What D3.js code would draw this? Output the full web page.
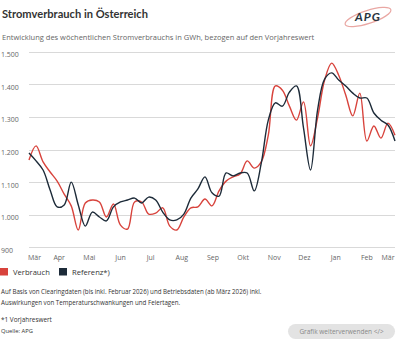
<!DOCTYPE html>
<html>
<head>
<meta charset="utf-8">
<script src="https://cdn.jsdelivr.net/npm/d3@7"></script>
<style>
  body { margin: 0; background: #fff; }
  #chart { width: 400px; height: 342px; }
</style>
</head>
<body>
<div id="chart"></div>
<script>
// weekly dates (one point per week)
const weeks = [
  "2025-03-02", "2025-03-09", "2025-03-16", "2025-03-23", "2025-03-30",
  "2025-04-06", "2025-04-13", "2025-04-20", "2025-04-27",
  "2025-05-04", "2025-05-11", "2025-05-18", "2025-05-25",
  "2025-06-01", "2025-06-08", "2025-06-15", "2025-06-22", "2025-06-29",
  "2025-07-06", "2025-07-13", "2025-07-20", "2025-07-27",
  "2025-08-03", "2025-08-10", "2025-08-17", "2025-08-24", "2025-08-31",
  "2025-09-07", "2025-09-14", "2025-09-21", "2025-09-28",
  "2025-10-05", "2025-10-12", "2025-10-19", "2025-10-26",
  "2025-11-02", "2025-11-09", "2025-11-16", "2025-11-23", "2025-11-30",
  "2025-12-07", "2025-12-14", "2025-12-21", "2025-12-28",
  "2026-01-04", "2026-01-11", "2026-01-18", "2026-01-25",
  "2026-02-01", "2026-02-08", "2026-02-15", "2026-02-22", "2026-03-01"
];

const verbrauch = [
  1168, 1211, 1162, 1131, 1103, 1063, 1027, 953, 1036, 1045,
  1039, 993, 1033, 968, 956, 1039, 1039, 1002, 1005, 1021,
  965, 953, 993, 1021, 1024, 1048, 1027, 1073, 1103, 1116,
  1125, 1165, 1143, 1162, 1244, 1395, 1382, 1333, 1290, 1346,
  1211, 1297, 1413, 1465, 1428, 1367, 1303, 1373, 1226, 1272,
  1235, 1281, 1244
];

const referenz = [
  1189, 1165, 1137, 1076, 1024, 1030, 1100, 1030, 965, 1008,
  993, 981, 1024, 1039, 1045, 1051, 1036, 1054, 1045, 1008,
  984, 984, 1002, 1051, 1079, 1116, 1067, 1057, 1128, 1119,
  1128, 1128, 1073, 1158, 1290, 1343, 1333, 1376, 1395, 1266,
  1137, 1321, 1416, 1435, 1413, 1395, 1373, 1358, 1358, 1312,
  1290, 1275, 1226
];

const yTicks = [900, 1000, 1100, 1200, 1300, 1400, 1500];
const monthTicks = [
  "2025-03-01", "2025-04-01", "2025-05-01", "2025-06-01", "2025-07-01",
  "2025-08-01", "2025-09-01", "2025-10-01", "2025-11-01", "2025-12-01",
  "2026-01-01", "2026-02-01", "2026-03-01"
];
const monthNames = ["Jan", "Feb", "Mär", "Apr", "Mai", "Jun", "Jul", "Aug", "Sep", "Okt", "Nov", "Dez"];

const legendItems = [
  { name: "Verbrauch", color: "#d8433c" },
  { name: "Referenz*)", color: "#1d2b39" }
];

const footnotes = [
  "Auf Basis von Clearingdaten (bis inkl. Februar 2026) und Betriebsdaten (ab März 2026) inkl.",
  "Auswirkungen von Temperaturschwankungen und Feiertagen."
];

const W = 400, H = 342;
const plot = { left: 29, right: 395, top: 51.7, bottom: 247.3 };
const sans = "'Open Sans', Lato, sans-serif";

const parse = d3.timeParse("%Y-%m-%d");
const dates = weeks.map(parse);

const svg = d3.select("#chart").append("svg")
  .attr("width", W).attr("height", H)
  .style("font-family", sans);

// title
svg.append("text")
  .attr("x", 2).attr("y", 18)
  .style("font-family", "Lato, sans-serif")
  .attr("font-size", 11.5).attr("font-weight", 700)
  .attr("textLength", 146).attr("lengthAdjust", "spacingAndGlyphs")
  .attr("fill", "#333")
  .text("Stromverbrauch in Österreich");

svg.append("text")
  .attr("x", 2).attr("y", 39.5)
  .attr("font-size", 7.5)
  .attr("fill", "#666")
  .text("Entwicklung des wöchentlichen Stromverbrauchs in GWh, bezogen auf den Vorjahreswert");

// logo
const logo = svg.append("g").attr("transform", "translate(368,17)");
logo.append("ellipse")
  .attr("rx", 24).attr("ry", 6.5)
  .attr("transform", "rotate(-18)")
  .attr("fill", "none").attr("stroke", "#e9a7a3").attr("stroke-width", 1.2);
logo.append("text")
  .attr("x", 0).attr("y", 4)
  .attr("text-anchor", "middle")
  .style("font-family", "Lato, sans-serif")
  .attr("font-size", 12).attr("font-style", "italic").attr("font-weight", 700)
  .attr("letter-spacing", 1)
  .attr("fill", "#2a3440")
  .text("APG");

const x = d3.scaleTime()
  .domain(d3.extent(dates))
  .range([plot.left, plot.right]);

const y = d3.scaleLinear()
  .domain([900, 1500])
  .range([plot.bottom, plot.top]);

const fmt = d3.format(",");
const deFmt = v => fmt(v).replace(/,/g, ".");

// grid + y labels
svg.append("g")
  .selectAll("line")
  .data(yTicks)
  .join("line")
  .attr("x1", plot.left).attr("x2", plot.right)
  .attr("y1", d => Math.round(y(d)) + 0.5)
  .attr("y2", d => Math.round(y(d)) + 0.5)
  .attr("stroke", "#d9d9d9").attr("stroke-width", 1);

svg.append("g")
  .selectAll("text")
  .data(yTicks)
  .join("text")
  .attr("x", 1)
  .attr("y", d => y(d) + 5.5)
  .attr("font-size", 7)
  .attr("fill", "#666")
  .text(d => deFmt(d));

// x labels
svg.append("g")
  .selectAll("text")
  .data(monthTicks.map(parse))
  .join("text")
  .attr("x", d => Math.min(Math.max(x(d), plot.left + 5.5), plot.right - 7))
  .attr("y", 260)
  .attr("text-anchor", "middle")
  .attr("font-size", 7)
  .attr("fill", "#666")
  .text(d => monthNames[d.getMonth()]);

// lines
const line = d3.line()
  .x((d, i) => x(dates[i]))
  .y(d => y(d))
  .curve(d3.curveCatmullRom.alpha(0.5));

svg.append("path")
  .datum(verbrauch)
  .attr("fill", "none")
  .attr("stroke", legendItems[0].color)
  .attr("stroke-width", 1.4)
  .attr("d", line);

svg.append("path")
  .datum(referenz)
  .attr("fill", "none")
  .attr("stroke", legendItems[1].color)
  .attr("stroke-width", 1.4)
  .attr("d", line);

// legend
const leg = svg.append("g").attr("transform", "translate(0,268)");
const legX = [0, 59];
legendItems.forEach((d, i) => {
  leg.append("rect")
    .attr("x", legX[i]).attr("y", 0)
    .attr("width", 8).attr("height", 7.5)
    .attr("fill", d.color);
  leg.append("text")
    .attr("x", legX[i] + 13).attr("y", 7)
    .attr("font-size", 7.6)
    .attr("fill", "#333")
    .text(d.name);
});

// footnotes
svg.selectAll(".foot")
  .data(footnotes)
  .join("text")
  .attr("x", 1)
  .attr("y", (d, i) => 294 + i * 11.3)
  .attr("font-size", 6.2)
  .attr("fill", "#333")
  .text(d => d);

svg.append("text")
  .attr("x", 1).attr("y", 321.5)
  .attr("font-size", 6.4).attr("fill", "#333")
  .text("*1 Vorjahreswert");

svg.append("text")
  .attr("x", 1).attr("y", 332.5)
  .attr("font-size", 5.8).attr("fill", "#333")
  .text("Quelle: APG");

// button
const btn = svg.append("g").attr("transform", "translate(288,324)");
btn.append("rect")
  .attr("width", 107).attr("height", 15).attr("rx", 7.5)
  .attr("fill", "#e3e3e3");
btn.append("text")
  .attr("x", 53.5).attr("y", 10)
  .attr("text-anchor", "middle")
  .attr("font-size", 6.5).attr("fill", "#888")
  .text("Grafik weiterverwenden </>");
</script>
</body>
</html>
